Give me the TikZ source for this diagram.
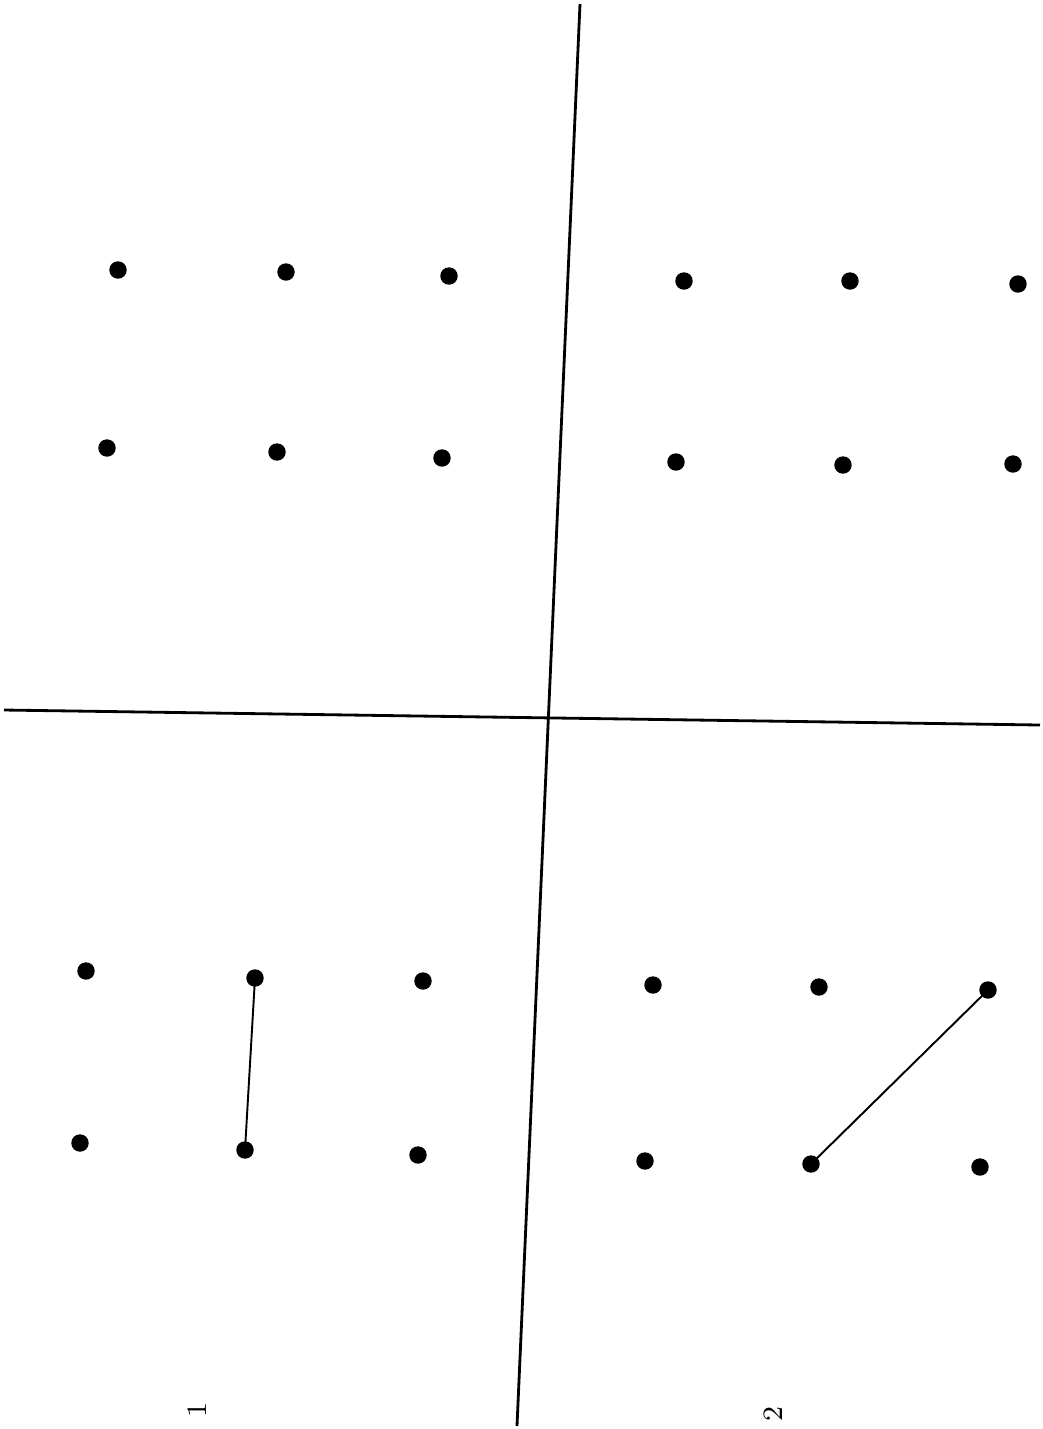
\documentclass[tikz,border=0pt]{standalone}
\usepackage{tikz}
\usetikzlibrary{positioning}
\tikzset{
  dot/.style={
    circle, fill=black, draw=black, inner sep=0pt, minimum size=1.6mm
  },
  axis/.style={line width=0.8pt, color=black},
  link/.style={line width=0.55pt, color=black},
  caption/.style={font=\footnotesize, rotate=90, inner sep=1pt}
}

\begin{document}
\begin{tikzpicture}[x=0.1mm, y=-0.1mm]
  \fill[white] (0,0) rectangle (1043,1429);
  \useasboundingbox (0,0) rectangle (1043,1429);

  % axes
  \coordinate (vtop) at (580,4);
  \coordinate (vbot) at (517,1426);
  \coordinate (hleft) at (4,710);
  \coordinate (hright) at (1040,725);
  \draw[axis] (vtop) -- (vbot);
  \draw[axis] (hleft) -- (hright);

  % upper left
  \node[dot] (a1) at (118,270) {};
  \node[dot] (a2) at (286,272) {};
  \node[dot] (a3) at (449,276) {};
  \node[dot] (a4) at (107,448) {};
  \node[dot] (a5) at (277,452) {};
  \node[dot] (a6) at (442,458) {};

  % upper right
  \node[dot] (b1) at (684,281) {};
  \node[dot] (b2) at (850,281) {};
  \node[dot] (b3) at (1018,284) {};
  \node[dot] (b4) at (676,462) {};
  \node[dot] (b5) at (843,465) {};
  \node[dot] (b6) at (1013,464) {};

  % lower left
  \node[dot] (c1) at (86,971) {};
  \node[dot] (c2) at (255,978) {};
  \node[dot] (c3) at (423,981) {};
  \node[dot] (c4) at (80,1143) {};
  \node[dot] (c5) at (245,1150) {};
  \node[dot] (c6) at (418,1155) {};

  % lower right
  \node[dot] (d1) at (653,985) {};
  \node[dot] (d2) at (819,987) {};
  \node[dot] (d3) at (988,990) {};
  \node[dot] (d4) at (645,1161) {};
  \node[dot] (d5) at (811,1164) {};
  \node[dot] (d6) at (980,1167) {};

  \draw[link] (c2.center) -- (c5.center);
  \draw[link] (d3.center) -- (d5.center);

  \node[caption] (lab1) at (197,1410) {1};
  \node[caption] (lab2) at (773,1414) {2};
\end{tikzpicture}
\end{document}
